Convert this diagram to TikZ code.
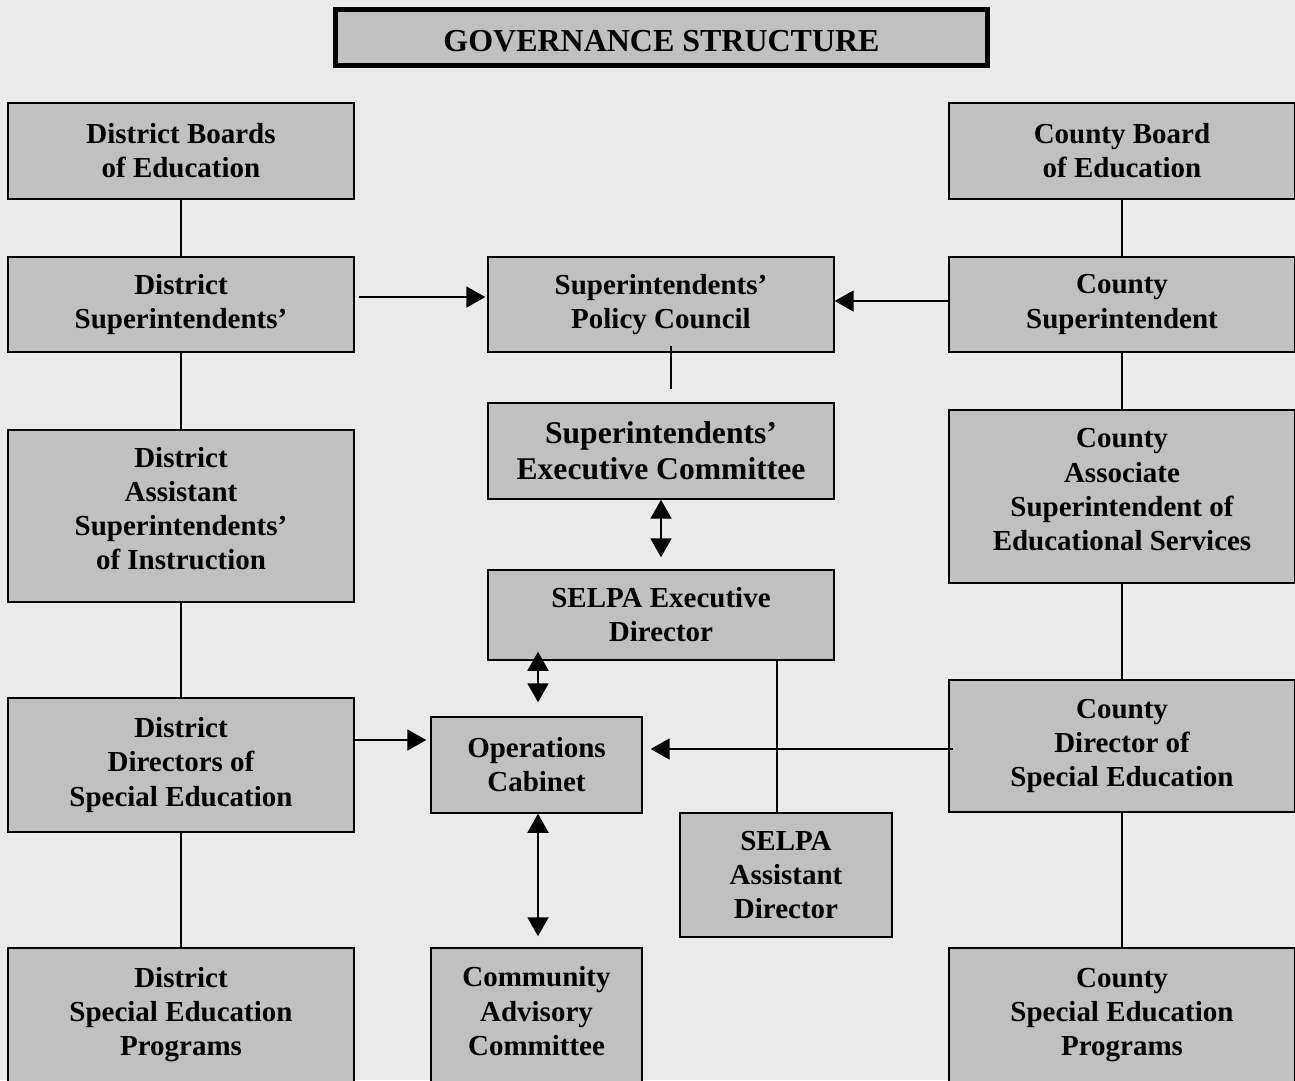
\documentclass[tikz,border=0pt]{standalone}
\usepackage{fontspec}
\setmainfont{Liberation Serif}
\usepackage{xcolor}
\usetikzlibrary{arrows.meta,positioning,calc}
\definecolor{bggray}{HTML}{EAEAEA}
\definecolor{boxgray}{HTML}{C0C0C0}
\begin{document}
\begin{tikzpicture}[x=0.02cm,y=-0.02cm,
font=\fontsize{16.5}{19.4}\selectfont\bfseries,
box/.style={draw,fill=boxgray,line width=0.85pt,align=center,inner sep=0pt,minimum width=6.92cm},
small/.style={box,minimum width=4.22cm},
big/.style={font=\fontsize{18}{20.5}\selectfont\bfseries},
link/.style={line width=1.1pt},
arr/.style={-{Triangle[length=0.38cm,width=0.42cm]},line width=1.1pt},
darr/.style={{Triangle[length=0.38cm,width=0.42cm]}-{Triangle[length=0.38cm,width=0.42cm]},line width=1.1pt}]
\useasboundingbox[fill=bggray] (0,0) rectangle (1295,1080);
\node[box,font=\fontsize{18.2}{21}\selectfont\bfseries,line width=2.9pt,minimum width=13.04cm,minimum height=1.12cm,text height=0.55cm,text depth=0pt] (title) at (661.5,37.5) {GOVERNANCE STRUCTURE};
% district side
\node[box,minimum height=1.92cm] (dbe) at (181,151) {District Boards\\of Education};
\node[box,minimum height=1.9cm] (ds) at (181,304.5) {District\\Superintendents'};
\node[box,minimum height=3.44cm,text depth=0.3cm] (dasi) at (181,516) {District\\Assistant\\Superintendents'\\of Instruction};
\node[box,minimum height=2.68cm] (ddse) at (181,765) {District\\Directors of\\Special Education};
\node[box,minimum height=2.68cm] (dsep) at (181,1015) {District\\Special Education\\Programs};
% county side
\node[box,minimum height=1.92cm] (cbe) at (1122,151) {County Board\\of Education};
\node[box,minimum height=1.9cm] (cs) at (1122,304.5) {County\\Superintendent};
\node[box,minimum height=3.46cm,text depth=0.28cm] (cases) at (1122,496.5) {County\\Associate\\Superintendent of\\Educational Services};
\node[box,minimum height=2.64cm] (cdse) at (1122,746) {County\\Director of\\Special Education};
\node[box,minimum height=2.68cm] (csep) at (1122,1015) {County\\Special Education\\Programs};
% middle
\node[box,minimum height=1.9cm] (spc) at (661,304.5) {Superintendents'\\Policy Council};
\node[box,big,minimum height=1.92cm] (sec) at (661,451) {Superintendents'\\Executive Committee};
\node[box,minimum height=1.8cm] (sed) at (661,615) {SELPA Executive\\Director};
\node[small,minimum height=1.92cm] (oc) at (536.5,765) {Operations\\Cabinet};
\node[small,minimum width=4.24cm,minimum height=2.48cm] (sad) at (786,875) {SELPA\\Assistant\\Director};
\node[small,minimum height=2.68cm,text depth=0.16cm] (cac) at (536.5,1015) {Community\\Advisory\\Committee};
% vertical chains
\draw[link] (dbe)--(ds); \draw[link] (ds)--(dasi); \draw[link] (dasi)--(ddse); \draw[link] (ddse)--(dsep);
\draw[link] (cbe)--(cs); \draw[link] (cs)--(cases); \draw[link] (cases)--(cdse); \draw[link] (cdse)--(csep);
% into the council
\draw[arr] ([xshift=0.08cm,yshift=0.15cm]ds.east)--([xshift=-0.04cm,yshift=0.15cm]spc.west);
\draw[arr] ([yshift=0.07cm]cs.west)--([yshift=0.07cm]spc.east);
\draw[link] ([xshift=0.2cm,yshift=0.14cm]spc.south)--([xshift=0.2cm,yshift=0.26cm]sec.north);
\draw[darr] (sec.south)--([yshift=0.24cm]sed.north);
\draw[darr] ([xshift=0.03cm,yshift=0.18cm]oc.north |- sed.south)--([xshift=0.03cm,yshift=0.28cm]oc.north);
\draw[darr] ([xshift=0.03cm]oc.south)--([xshift=0.03cm,yshift=0.22cm]cac.north);
\draw[link] ([xshift=-0.18cm]sad.north)--([xshift=-0.18cm]sad.north |- sed.south);
% into the cabinet
\draw[arr] ([xshift=-0.04cm,yshift=0.5cm]ddse.east)--([xshift=-0.08cm,yshift=0.5cm]oc.west);
\coordinate (cdin) at ([xshift=0.1cm,yshift=-0.06cm]cdse.west);
\draw[arr] (cdin)--($(cdin -| oc.east)+(8,0)$);
\end{tikzpicture}
\end{document}
